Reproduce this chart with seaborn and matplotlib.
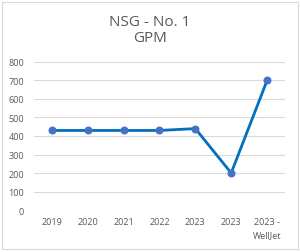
import matplotlib
matplotlib.use("Agg")
import matplotlib.pyplot as plt
import numpy as np
import seaborn as sns

labels = ["2019", "2020", "2021", "2022", "2023", "2023", "2023 -\nWellJet"]
gpm = [430, 430, 430, 430, 440, 200, 700]
title = "NSG - No. 1\nGPM"

sns.set_style("white")
plt.rcParams['font.family'] = ['Open Sans', 'DejaVu Sans']

fig = plt.figure(figsize=(3.0, 2.53), dpi=100)
ax = fig.add_axes([0.113, 0.166, 0.837, 0.585])

pos = np.arange(len(labels))
sns.lineplot(x=pos, y=gpm, ax=ax, color="#0070C0", linewidth=2.0,
             marker="o", markersize=5, markerfacecolor="#4472C4",
             markeredgecolor="#4472C4")

ax.set_ylim(0, 800)
ax.set_yticks(np.arange(0, 801, 100))
ax.set_xlim(-0.5, len(labels) - 0.5)
ax.set_xticks(pos)
ax.set_xticklabels(labels, fontsize=6.5, color="#595959", linespacing=1.6, va="top")
ax.tick_params(axis="y", labelsize=6.5, labelcolor="#595959", length=0, pad=7)
ax.tick_params(axis="x", length=0, pad=5)
ax.grid(axis="y", color="#D9D9D9", linewidth=0.8)
ax.set_axisbelow(True)
for s in ax.spines.values():
    s.set_visible(False)

fig.text(0.5, 0.88, title, ha="center", va="center", fontsize=11,
         color="#595959", linespacing=1.15)

# outer chart border
border = plt.Rectangle((0.007, 0.01), 0.986, 0.98, transform=fig.transFigure,
                       fill=False, edgecolor="#D9D9D9", linewidth=0.8)
fig.add_artist(border)

fig.savefig("out.png", dpi=100)
